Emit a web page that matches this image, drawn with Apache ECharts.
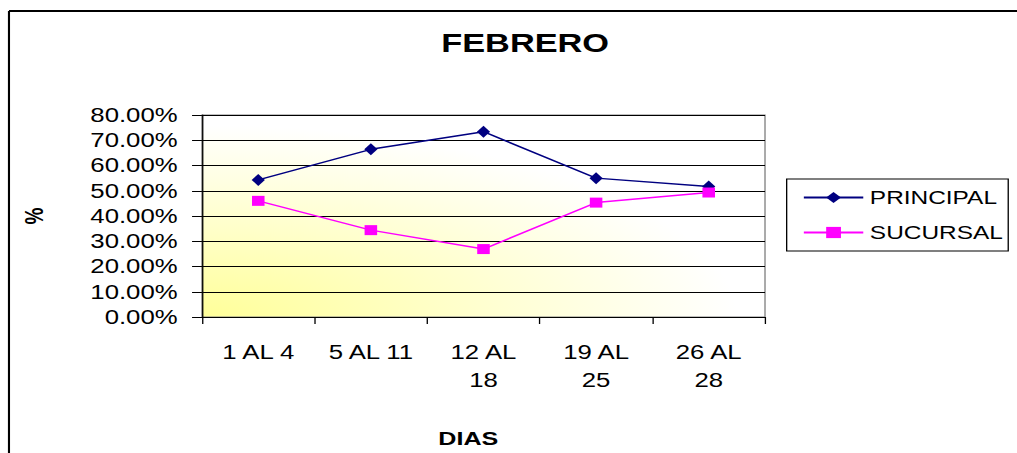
<!DOCTYPE html>
<html>
<head>
<meta charset="utf-8">
<script src="https://cdn.jsdelivr.net/npm/echarts@6/dist/echarts.min.js"></script>
<style>
  html, body { margin: 0; padding: 0; background: #fff; overflow: hidden; }
  /* the source picture is stretched sideways, so the chart is drawn narrow and widened */
  #chart { width: 770px; height: 453px; transform: scaleX(1.3208); transform-origin: 0 0; }
</style>
</head>
<body>
<div id="chart"></div>
<script>
// data
var categories = ['1 AL 4', '5 AL 11', '12 AL\n18', '19 AL\n25', '26 AL\n28'];
var principal = [0.543, 0.664, 0.734, 0.550, 0.517];
var sucursal = [0.460, 0.344, 0.269, 0.453, 0.493];
var yMin = 0, yMax = 0.8, yStep = 0.1;

var font = 'Liberation Sans, Arial, sans-serif';
var chart = echarts.init(document.getElementById('chart'), null, { renderer: 'svg' });

var option = {
  animation: false,
  backgroundColor: '#fff',
  textStyle: { fontFamily: font, color: '#000' },
  title: {
    text: 'FEBRERO',
    left: 392.6,
    textAlign: 'center',
    top: 25,
    textStyle: { fontFamily: font, fontSize: 26, fontWeight: 'bold', color: '#000' }
  },
  legend: {
    orient: 'vertical',
    left: 595.6,
    top: 179,
    padding: [9, 4, 9, 12],
    itemGap: 16,
    itemWidth: 45,
    itemHeight: 14,
    borderColor: '#000',
    borderWidth: 1,
    textStyle: { fontFamily: font, fontSize: 18.5, color: '#000' },
    data: ['PRINCIPAL', 'SUCURSAL']
  },
  grid: {
    left: 152.9,
    right: 190.8,
    top: 115,
    bottom: 136,
    show: true,
    borderColor: '#808080',
    borderWidth: 1,
    backgroundColor: {
      type: 'radial', x: 0, y: 1, r: 0.95,
      colorStops: [
        { offset: 0, color: '#ffff99' },
        { offset: 0.45, color: '#ffffc8' },
        { offset: 1, color: '#ffffff' }
      ]
    }
  },
  xAxis: {
    type: 'category',
    data: categories,
    name: 'DIAS',
    nameLocation: 'middle',
    nameGap: 112,
    nameTextStyle: { fontFamily: font, fontSize: 19, fontWeight: 'bold', color: '#000', padding: [0, 23, 0, 0] },
    axisLine: { lineStyle: { color: '#000', width: 1 } },
    axisTick: { show: true, length: 7, lineStyle: { color: '#000' } },
    axisLabel: { margin: 21, fontFamily: font, fontSize: 19.5, lineHeight: 28, color: '#000', interval: 0 },
    splitLine: { show: false }
  },
  yAxis: {
    type: 'value',
    min: yMin,
    max: yMax,
    interval: yStep,
    name: '%',
    nameLocation: 'middle',
    nameGap: 117,
    nameTextStyle: { fontFamily: font, fontSize: 19, fontWeight: 'bold', color: '#000' },
    axisLine: { show: true, lineStyle: { color: '#000', width: 1 } },
    axisTick: { show: true, length: 7.5, lineStyle: { color: '#000' } },
    axisLabel: {
      margin: 18.4, fontFamily: font, fontSize: 19.5, color: '#000',
      formatter: function (v) { return (v * 100).toFixed(2) + '%'; }
    },
    splitLine: { show: true, lineStyle: { color: '#000', width: 1 } }
  },
  series: [{
    name: 'PRINCIPAL',
    type: 'line',
    data: principal,
    symbol: 'diamond',
    symbolSize: [10, 12],
    color: '#000080',
    lineStyle: { color: '#000080', width: 1.5 },
    itemStyle: { color: '#000080' }
  }, {
    name: 'SUCURSAL',
    type: 'line',
    data: sucursal,
    symbol: 'rect',
    symbolSize: [9.5, 10],
    color: '#ff00ff',
    lineStyle: { color: '#ff00ff', width: 1.5 },
    itemStyle: { color: '#ff00ff' }
  }],
  graphic: [
    // outer chart frame (top and left edges are visible)
    { type: 'line', shape: { x1: 6.8, y1: 11, x2: 800, y2: 11 }, style: { stroke: '#000', lineWidth: 2 } },
    { type: 'line', shape: { x1: 6.8, y1: 11, x2: 6.8, y2: 460 }, style: { stroke: '#000', lineWidth: 1.6 } }
  ]
};

chart.setOption(option);
</script>
</body>
</html>
